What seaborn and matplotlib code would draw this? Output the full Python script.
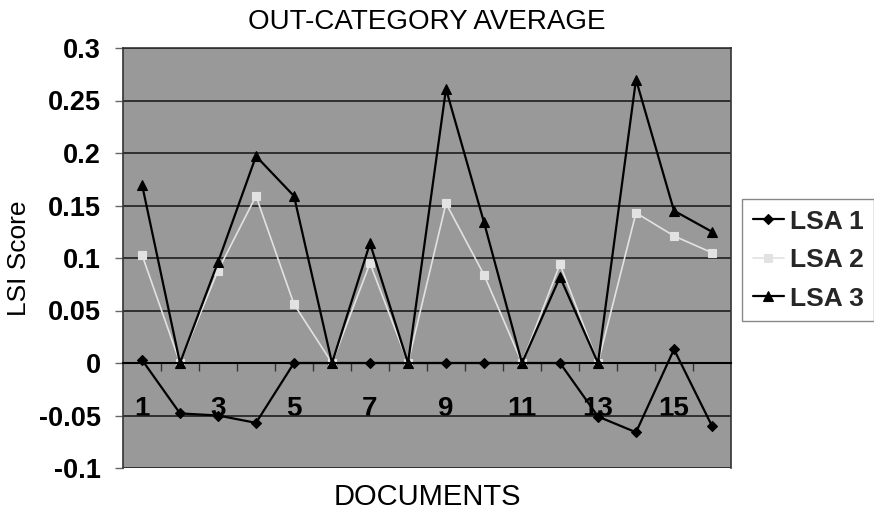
import numpy as np
import pandas as pd
import matplotlib.pyplot as plt
import seaborn as sns

# values
documents = list(range(1, 17))
lsa1 = [0.003, -0.048, -0.050, -0.057, 0.0, 0.0, 0.0, 0.0,
        0.0, 0.0, 0.0, 0.0, -0.051, -0.066, 0.013, -0.060]
lsa2 = [0.103, 0.0, 0.088, 0.159, 0.056, 0.0, 0.095, 0.0,
        0.152, 0.084, 0.0, 0.094, 0.0, 0.143, 0.121, 0.105]
lsa3 = [0.170, 0.0, 0.096, 0.197, 0.159, 0.0, 0.114, 0.0,
        0.261, 0.134, 0.0, 0.082, 0.0, 0.270, 0.145, 0.125]
series_names = ["LSA 1", "LSA 2", "LSA 3"]
ytick_values = [-0.1, -0.05, 0, 0.05, 0.1, 0.15, 0.2, 0.25, 0.3]
ytick_labels = ["-0.1", "-0.05", "0", "0.05", "0.1", "0.15", "0.2", "0.25", "0.3"]
xtick_values = [1, 3, 5, 7, 9, 11, 13, 15]

df = pd.DataFrame({"doc": documents, "LSA 1": lsa1, "LSA 2": lsa2, "LSA 3": lsa3})

sns.set_theme(style="ticks")
plt.rcParams['font.family'] = ['Liberation Sans', 'DejaVu Sans']

fig = plt.figure(figsize=(8.74, 5.13), dpi=100)
ax = fig.add_axes([123 / 874, 45 / 513, 608 / 874, 420 / 513])
ax.set_facecolor('#999999')

styles = {
    "LSA 1": dict(color='black', marker='D', markersize=5, linewidth=1.6),
    "LSA 2": dict(color='#e2e2e2', marker='s', markersize=6, linewidth=1.2),
    "LSA 3": dict(color='black', marker='^', markersize=7, linewidth=1.6),
}
for name in series_names:
    st = styles[name]
    sns.lineplot(data=df, x="doc", y=name, ax=ax, label=name,
                 color=st['color'], marker=st['marker'],
                 markersize=st['markersize'], linewidth=st['linewidth'],
                 markeredgecolor=st['color'], markeredgewidth=0.8)

ax.set_xlim(0.5, 16.5)
ax.set_ylim(-0.1, 0.3)
ax.set_yticks(ytick_values)
ax.set_yticklabels(ytick_labels, fontsize=19.5, fontweight='bold', color='black')
ax.tick_params(axis='y', direction='out', length=6, width=1, color='#666666', pad=10)

# x axis sits on the zero line, labels on every other document
ax.spines['bottom'].set_position(('data', 0))
ax.spines['bottom'].set_color('black')
ax.spines['bottom'].set_linewidth(1.5)
ax.set_xticks(xtick_values)
ax.set_xticklabels([str(v) for v in xtick_values], fontsize=20, fontweight='bold', color='black')
ax.set_xticks(np.arange(1.5, 16, 1), minor=True)
ax.tick_params(axis='x', which='major', length=0, pad=24)
ax.tick_params(axis='x', which='minor', direction='out', length=6, width=1, color='#333333')

for side in ['left', 'top', 'right']:
    ax.spines[side].set_color('#333333')
    ax.spines[side].set_linewidth(1.2)

ax.yaxis.grid(True, color='#1e1e1e', linewidth=1.2)
ax.xaxis.grid(False)
ax.set_axisbelow(True)

ax.set_title("OUT-CATEGORY AVERAGE", fontsize=20, pad=14, color='black')
ax.set_xlabel("DOCUMENTS", fontsize=21, color='black')
ax.xaxis.set_label_coords(0.5, -0.035)
ax.set_ylabel("LSI Score", fontsize=19, color='black')
ax.yaxis.set_label_coords(-0.152, 0.5)

ax.legend(loc='upper left', bbox_to_anchor=(742 / 874, (513 - 199) / 513),
          bbox_transform=fig.transFigure, frameon=True, fancybox=False,
          edgecolor='#888888', facecolor='white', framealpha=1,
          prop={'size': 19, 'weight': 'bold'}, handlelength=1.2,
          handletextpad=0.2, labelspacing=0.55, borderpad=0.4, borderaxespad=0)

fig.savefig("out.png", dpi=100)
